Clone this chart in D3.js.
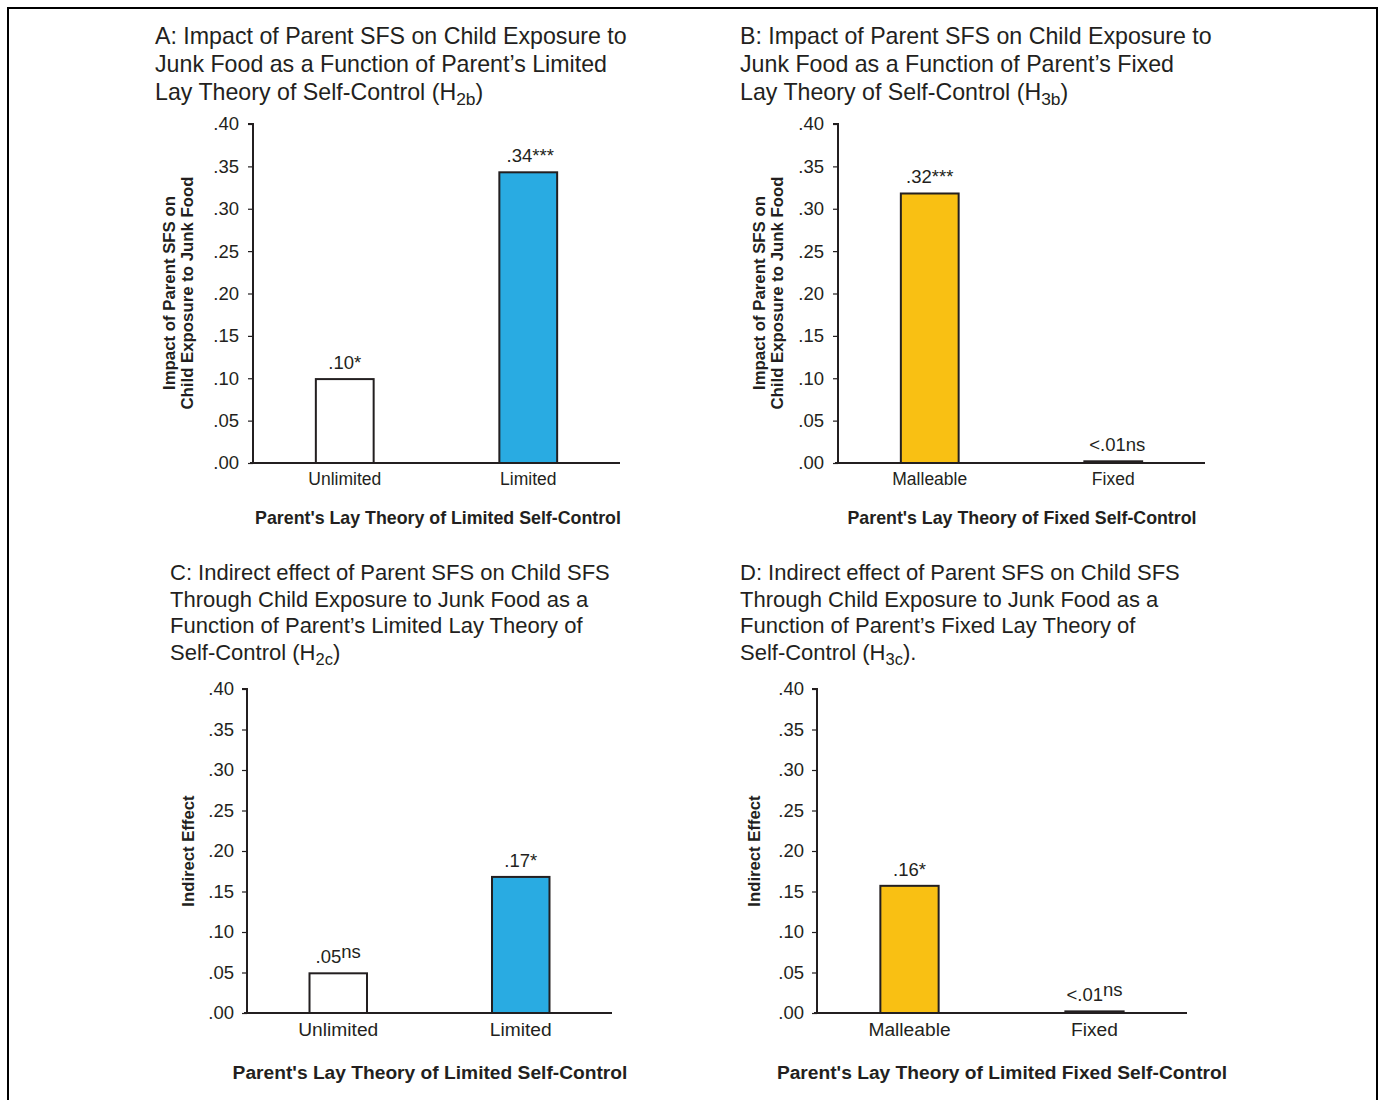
<!DOCTYPE html>
<html><head><meta charset="utf-8">
<script src="https://cdn.jsdelivr.net/npm/d3@7"></script>
<style>body{margin:0;background:#fff}svg{display:block}text{font-family:"Liberation Sans",Arial,sans-serif;fill:#231F20}</style>
</head><body>
<svg id="c" width="1379" height="1100"></svg>
<script>
// ---- data ----
const yTicks = [0, 0.05, 0.10, 0.15, 0.20, 0.25, 0.30, 0.35, 0.40];
const tickLabels = [".00", ".05", ".10", ".15", ".20", ".25", ".30", ".35", ".40"];
const catsLimited = ["Unlimited", "Limited"];
const catsFixed = ["Malleable", "Fixed"];
const valuesA = [0.099, 0.343];
const valuesB = [0.318, 0.002];
const valuesC = [0.049, 0.168];
const valuesD = [0.157, 0.002];
const labelsA = [[".10", "*", false], [".34", "***", false]];
const labelsB = [[".32", "***", false], ["<.01", "ns", false]];
const labelsC = [[".05", "ns", true], [".17", "*", false]];
const labelsD = [[".16", "*", false], ["<.01", "ns", true]];
const titleA = ["A: Impact of Parent SFS on Child Exposure to", "Junk Food as a Function of Parent\u2019s Limited", ["Lay Theory of Self-Control (H", "2b", ")"]];
const titleB = ["B: Impact of Parent SFS on Child Exposure to", "Junk Food as a Function of Parent\u2019s Fixed", ["Lay Theory of Self-Control (H", "3b", ")"]];
const titleC = ["C: Indirect effect of Parent SFS on Child SFS", "Through Child Exposure to Junk Food as a", "Function of Parent\u2019s Limited Lay Theory of", ["Self-Control (H", "2c", ")"]];
const titleD = ["D: Indirect effect of Parent SFS on Child SFS", "Through Child Exposure to Junk Food as a", "Function of Parent\u2019s Fixed Lay Theory of", ["Self-Control (H", "3c", ")."]];
const yLabelTop = ["Impact of Parent SFS on", "Child Exposure to Junk Food"];
const yLabelBottom = ["Indirect Effect"];
const xTitleA = "Parent's Lay Theory of Limited Self-Control";
const xTitleB = "Parent's Lay Theory of Fixed Self-Control";
const xTitleC = "Parent's Lay Theory of Limited Self-Control";
const xTitleD = "Parent's Lay Theory of Limited Fixed Self-Control";
const colorLimited = ["#ffffff", "#29ABE2"];
const colorFixed = ["#F9C013", "#231F20"];

const INK = "#231F20";
const FONT = '"Liberation Sans",Arial,sans-serif';
const svg = d3.select("#c");

// border
svg.append("path").attr("d", "M8,1105 L8,8 L1377,8 L1377,1105")
  .attr("fill", "none").attr("stroke", "#000").attr("stroke-width", 2);

function panel(o) {
  const g = svg.append("g");
  // title
  o.title.forEach((line, i) => {
    const t = g.append("text").attr("x", o.tx).attr("y", o.ty + i * o.tls)
      .attr("font-size", o.tfs);
    if (Array.isArray(line)) {
      t.append("tspan").text(line[0]);
      t.append("tspan").attr("font-size", o.tfs * 0.75).attr("dy", 5).text(line[1]);
      t.append("tspan").attr("dy", -5).text(line[2]);
    } else t.text(line);
  });
  const y = d3.scaleLinear().domain([0, 0.4]).range([o.y0, o.y1]);
  const x = d3.scaleBand().domain(o.cats).range([o.x0, o.x1]).paddingInner(0.685).paddingOuter(0.3425);
  // bars
  g.selectAll("rect.bar").data(o.values).join("rect")
    .attr("x", (d, i) => x(o.cats[i])).attr("width", x.bandwidth())
    .attr("y", d => y(d)).attr("height", d => y(0) - y(d))
    .attr("fill", (d, i) => o.colors[i]).attr("stroke", INK).attr("stroke-width", 2);
  // value labels
  o.labels.forEach((l, i) => {
    const t = g.append("text").attr("text-anchor", "middle")
      .attr("x", x(o.cats[i]) + x.bandwidth() / 2 + (o.loff ? o.loff[i] : 0))
      .attr("y", y(o.values[i]) - 10).attr("font-size", o.vfs);
    t.append("tspan").text(l[0]);
    if (l[2]) t.append("tspan").attr("dy", -5).text(l[1]);
    else t.append("tspan").text(l[1]);
  });
  // y axis
  const ya = d3.axisLeft(y).tickValues(yTicks).tickFormat((d, i) => tickLabels[i]).tickSize(5).tickPadding(o.ypad);
  const yg = g.append("g").attr("transform", `translate(${o.x0},0)`).call(ya);
  yg.select(".domain").attr("stroke", INK).attr("stroke-width", 2).attr("d", `M-5,${o.y1}H0V${o.y0}`);
  yg.selectAll(".tick line").attr("stroke", INK).attr("stroke-width", 1.2);
  yg.selectAll(".tick text").attr("font-size", o.yfs).attr("fill", INK).attr("font-family", FONT);
  // x axis
  const xa = d3.axisBottom(x).tickSize(0).tickPadding(o.xpad);
  const xg = g.append("g").attr("transform", `translate(0,${o.y0})`).call(xa);
  xg.select(".domain").attr("stroke", INK).attr("stroke-width", 2).attr("d", `M${o.x0 - 3},0H${o.x1}`);
  xg.selectAll(".tick text").attr("font-size", o.cfs).attr("fill", INK).attr("font-family", FONT);
  // x title
  g.append("text").attr("x", o.xtx).attr("y", o.xty).attr("text-anchor", "middle")
    .attr("font-weight", "bold").attr("font-size", o.xtfs).text(o.xTitle);
  // y label
  o.yLabel.forEach((s, i) => {
    g.append("text").attr("transform", `translate(${o.ylx + i * 18},${o.yly}) rotate(-90)`)
      .attr("text-anchor", "middle").attr("font-weight", "bold").attr("font-size", o.ylfs).text(s);
  });
}

panel({title: titleA, tx: 155, ty: 44, tls: 28, tfs: 23.2, cats: catsLimited, values: valuesA, labels: labelsA, colors: colorLimited, loff: [0, 2],
  x0: 253, x1: 620, y0: 463, y1: 124, vfs: 18.5, yfs: 18.5, ypad: 9, cfs: 17.5, xpad: 10, xTitle: xTitleA, xtx: 438, xty: 524, xtfs: 17.8,
  yLabel: yLabelTop, ylx: 175, yly: 293, ylfs: 16.8});
panel({title: titleB, tx: 740, ty: 44, tls: 28, tfs: 23.2, cats: catsFixed, values: valuesB, labels: labelsB, colors: colorFixed, loff: [0, 4],
  x0: 838, x1: 1205, y0: 463, y1: 124, vfs: 18.5, yfs: 18.5, ypad: 9, cfs: 17.5, xpad: 10, xTitle: xTitleB, xtx: 1022, xty: 524, xtfs: 17.8,
  yLabel: yLabelTop, ylx: 765, yly: 293, ylfs: 16.8});
panel({title: titleC, tx: 170, ty: 580, tls: 26.5, tfs: 22, cats: catsLimited, values: valuesC, labels: labelsC, colors: colorLimited,
  x0: 247, x1: 612, y0: 1013, y1: 689, vfs: 18.5, yfs: 18.5, ypad: 8, cfs: 19.2, xpad: 9, xTitle: xTitleC, xtx: 430, xty: 1079, xtfs: 19.2,
  yLabel: yLabelBottom, ylx: 194, yly: 851, ylfs: 16.7});
panel({title: titleD, tx: 740, ty: 580, tls: 26.5, tfs: 22, cats: catsFixed, values: valuesD, labels: labelsD, colors: colorFixed,
  x0: 817, x1: 1187, y0: 1013, y1: 689, vfs: 18.5, yfs: 18.5, ypad: 8, cfs: 19.2, xpad: 9, xTitle: xTitleD, xtx: 1002, xty: 1079, xtfs: 19.2,
  yLabel: yLabelBottom, ylx: 760, yly: 851, ylfs: 16.7});
</script>
</body></html>
